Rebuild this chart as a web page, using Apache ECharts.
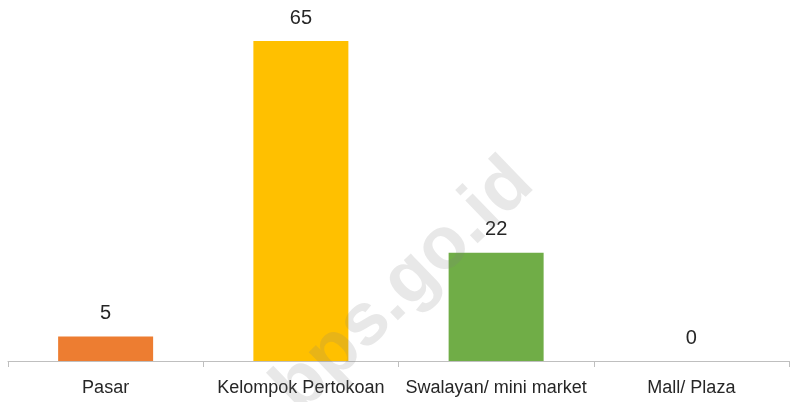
<!DOCTYPE html>
<html><head><meta charset="utf-8">
<script src="https://cdn.jsdelivr.net/npm/echarts@6/dist/echarts.min.js"></script>
<style>html,body{margin:0;padding:0;background:#fff}#c{width:790px;height:402px}</style>
</head><body><div id="c"></div>
<script>
const categories = ['Pasar', 'Kelompok Pertokoan', 'Swalayan/ mini market', 'Mall/ Plaza'];
const values = [5, 65, 22, 0];
const colors = ['#ED7D31', '#FFC000', '#70AD47', '#5B9BD5'];

const chart = echarts.init(document.getElementById('c'));
chart.setOption({
  animation: false,
  grid: { left: 8, right: 1, top: 41, bottom: 41, containLabel: false },
  xAxis: {
    type: 'category', data: categories,
    axisLine: { lineStyle: { color: '#BFBFBF', width: 1 } },
    axisTick: { show: true, length: 6, lineStyle: { color: '#BFBFBF' } },
    axisLabel: { color: '#262626', fontFamily: 'Liberation Sans', fontSize: 18, margin: 18, interval: 0 }
  },
  yAxis: { type: 'value', min: 0, max: 65, show: false, splitLine: { show: false } },
  series: [{
    type: 'bar', barWidth: 95,
    data: values.map((v, i) => ({ value: v, itemStyle: { color: colors[i] } })),
    label: { show: true, position: 'top', distance: 13, color: '#262626', fontFamily: 'Liberation Sans', fontSize: 20 }
  }],
  graphic: [{
    type: 'text', z: 100,
    x: 522, y: 172, rotation: Math.PI * 44 / 180,
    style: { text: 'a.bps.go.id', fill: 'rgba(128,128,128,0.18)', font: 'bold 74px "Liberation Sans"', align: 'right', verticalAlign: 'middle' }
  }]
});
</script></body></html>
